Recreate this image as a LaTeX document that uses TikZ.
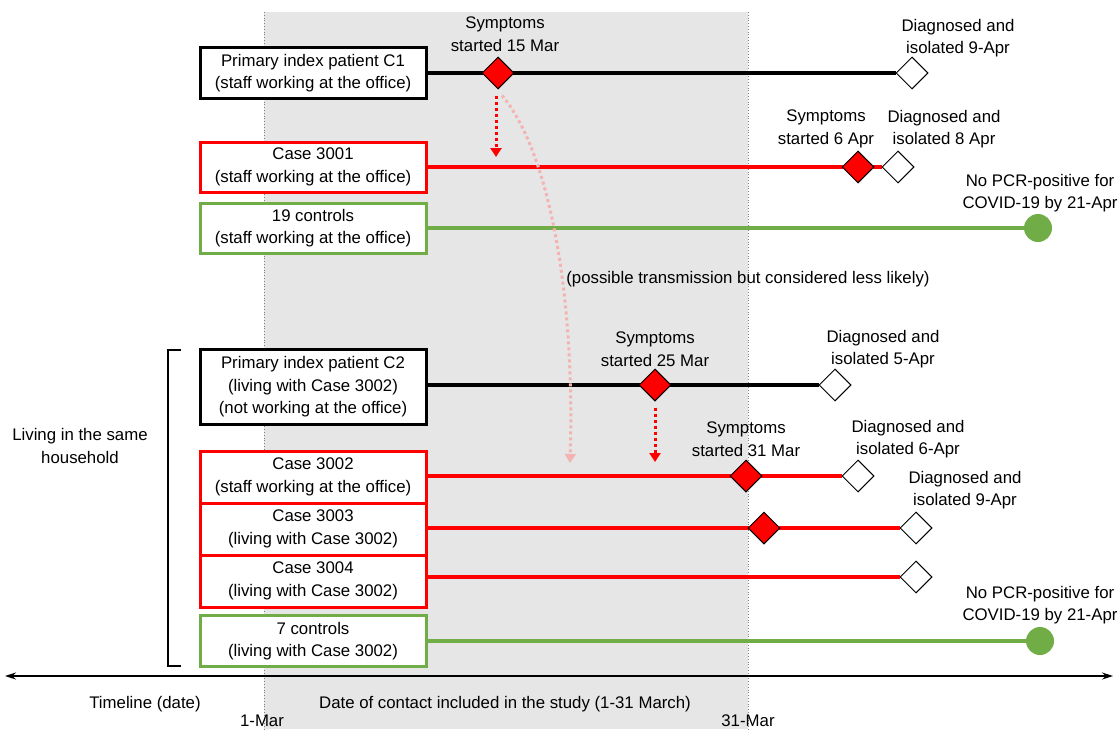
\documentclass[tikz,border=0pt]{standalone}
\usepackage{fontspec}
\setmainfont{Liberation Sans}
\usetikzlibrary{shapes.geometric,arrows.meta}
\definecolor{cred}{HTML}{FF0000}
\definecolor{cgreen}{HTML}{70AD47}
\definecolor{cpink}{HTML}{F4B3B3}
\definecolor{cshade}{HTML}{E6E6E6}
\begin{document}
\begin{tikzpicture}[x=1pt,y=-1pt,
  every node/.style={font=\fontsize{16.8}{22.5}\selectfont},
  box/.style={draw, line width=3pt, fill=white, minimum width=226pt, inner sep=2pt, align=center},
  lbl/.style={align=center, inner sep=0pt},
  tl/.style={line width=3.5pt},
  sym/.style={diamond, aspect=1, draw=black, line width=1pt, fill=cred, minimum size=32pt, inner sep=0pt},
  diag/.style={diamond, aspect=1, draw=black, line width=1pt, fill=white, minimum size=32pt, inner sep=0pt},
  neg/.style={circle, fill=cgreen, minimum size=28pt, inner sep=0pt},
  trans/.style={line width=3pt, dash pattern=on 3pt off 3pt, -{Triangle[length=9pt,width=11pt]}},
]
\useasboundingbox (0,0) rectangle (1118,729);
% shaded study period
\fill[cshade] (264,12) rectangle (748,729);
\draw[gray, dotted, line width=0.8pt] (264,12) -- (264,729);
\draw[gray, dotted, line width=0.8pt] (748,12) -- (748,729);

% ---- upper group ----
\node[box, draw=black, minimum height=51pt] (c1) at (313,73) {Primary index patient C1\\(staff working at the office)};
\node[box, draw=cred, minimum height=50pt] (k3001) at (313,167) {Case 3001\\(staff working at the office)};
\node[box, draw=cgreen, minimum height=50pt] (ctl19) at (313,228) {19 controls\\(staff working at the office)};

\node[diag] (c1end) at (912,73) {};
\draw[tl, black] (c1.east) -- (c1end.west);
\node[sym] (c1sym) at (498,73) {};
\node[lbl] (c1symL) at (505,34) {Symptoms\\started 15 Mar};
\node[lbl] (c1endL) at (958,38) {Diagnosed and\\isolated 9-Apr};

\node[diag] (k1end) at (898,167) {};
\draw[tl, cred] (k3001.east) -- (k1end.west);
\node[sym] (k1sym) at (858,167) {};
\node[lbl] (k1symL) at (826,129) {Symptoms\\started 6 Apr};
\node[lbl] (k1endL) at (944,129) {Diagnosed and\\isolated 8 Apr};

\node[neg] (c19end) at (1038,228) {};
\draw[tl, cgreen] (ctl19.east) -- (c19end.west);
\node[lbl] (c19L) at (1040,193) {No PCR-positive for\\COVID-19 by 21-Apr};

\coordinate (a1end) at (496,157);
\draw[trans, cred] (c1sym.south) ++(-2,6) -- (a1end);

\node[lbl] (possL) at (748,279) {(possible transmission but considered less likely)};

% ---- lower group ----
\node[box, draw=black, minimum height=75pt] (c2) at (313,387) {Primary index patient C2\\(living with Case 3002)\\(not working at the office)};
\node[box, draw=cred, minimum height=52pt] (k3002) at (313,477) {Case 3002\\(staff working at the office)};
\node[box, draw=cred, minimum height=52pt] (k3003) at (313,529) {Case 3003\\(living with Case 3002)};
\node[box, draw=cred, minimum height=52pt] (k3004) at (313,581) {Case 3004\\(living with Case 3002)};
\node[box, draw=cgreen, minimum height=51pt] (ctl7) at (313,641) {7 controls\\(living with Case 3002)};

\node[diag] (c2end) at (835,385) {};
\draw[tl, black] (c2.east |- c2end) -- (c2end.west);
\node[sym] (c2sym) at (655,385) {};
\node[lbl] (c2symL) at (655,349) {Symptoms\\started 25 Mar};
\node[lbl] (c2endL) at (883,349) {Diagnosed and\\isolated 5-Apr};

\node[diag] (k2end) at (858,476) {};
\draw[tl, cred] (k3002.east |- k2end) -- (k2end.west);
\node[sym] (k2sym) at (746,476) {};
\node[lbl] (k2symL) at (746,439) {Symptoms\\started 31 Mar};
\node[lbl] (k2endL) at (908,439) {Diagnosed and\\isolated 6-Apr};

\node[diag] (k3end) at (916,528) {};
\draw[tl, cred] (k3003.east |- k3end) -- (k3end.west);
\node[sym] (k3sym) at (764,528) {};
\node[lbl] (k3endL) at (965,490) {Diagnosed and\\isolated 9-Apr};

\node[diag] (k4end) at (916,577) {};
\draw[tl, cred] (k3004.east |- k4end) -- (k4end.west);

\node[neg] (c7end) at (1040,641) {};
\draw[tl, cgreen] (ctl7.east) -- (c7end.west);
\node[lbl] (c7L) at (1040,605) {No PCR-positive for\\COVID-19 by 21-Apr};

\coordinate (a2end) at (655,462);
\draw[trans, cred] (c2sym.south) ++(0,6) -- (a2end);

% unlikely transmission C1 -> Case 3002
\coordinate (a3end) at (570,463);
\draw[trans, cpink] (c1sym.south) ++(4,6) .. controls (548,150) and (575,290) .. (a3end);

% household bracket
\draw[line width=2.5pt] (181,350) -- (168,350) -- (168,666) -- (181,666);
\node[lbl] (houseL) at (80,446) {Living in the same\\household};

% timeline
\coordinate (tlL) at (5,676);
\coordinate (tlR) at (1113,676);
\draw[line width=1.2pt, {Stealth[length=11pt,width=7pt]}-{Stealth[length=11pt,width=7pt]}] (tlL) -- (tlR);
\node[lbl] (tlab) at (145,704) {Timeline (date)};
\node[lbl] (dlab) at (505,704) {Date of contact included in the study (1-31 March)};
\node[lbl] (mar1) at (262,721) {1-Mar};
\node[lbl] (mar31) at (748,721) {31-Mar};
\end{tikzpicture}
\end{document}
